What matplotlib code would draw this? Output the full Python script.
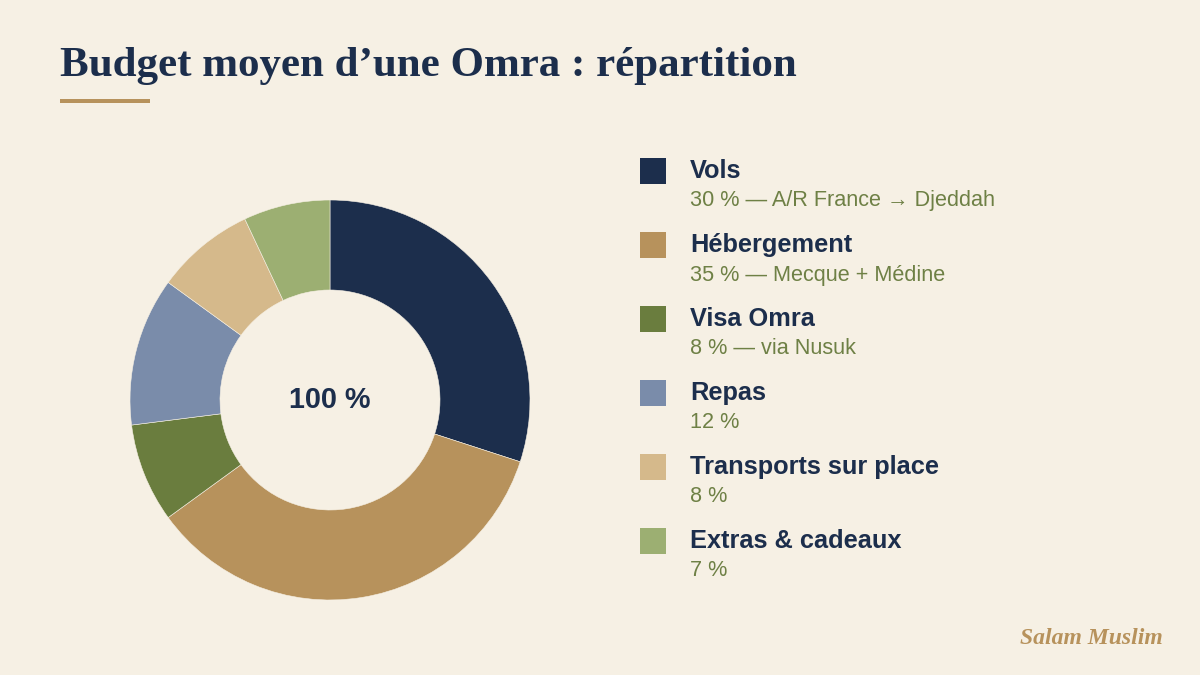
import matplotlib
matplotlib.use("Agg")
import matplotlib.pyplot as plt
from matplotlib.patches import Rectangle

categories = ["Vols", "Hébergement", "Visa Omra", "Repas", "Transports sur place", "Extras & cadeaux"]
values = [30, 35, 8, 12, 8, 7]
details = ["30 % — A/R France → Djeddah", "35 % — Mecque + Médine", "8 % — via Nusuk",
           "12 %", "8 %", "7 %"]
colors = ["#1c2e4c", "#b7925c", "#6a7d3e", "#7a8caa", "#d5b98b", "#9caf72"]
title = "Budget moyen d’une Omra : répartition"
center_label = "100 %"
brand = "Salam Muslim"

BG = "#f6f0e4"
NAVY = "#1c2e4c"
GOLD = "#b7925c"
SUB = "#6e8045"

W, H = 1200, 675
fig = plt.figure(figsize=(12, 6.75), dpi=100, facecolor=BG)

def fx(x): return x / W
def fy(y): return 1 - y / H

# Title
fig.text(fx(60), fy(66), title, family="Liberation Serif", fontweight="bold",
         fontsize=31, color=NAVY, va="center", ha="left")
fig.add_artist(Rectangle((fx(60), fy(103)), fx(90), 4 / H, transform=fig.transFigure,
                         color=GOLD, lw=0))

# Donut
cx, cy, R = 330, 400, 200
ax = fig.add_axes([fx(cx - R), fy(cy + R), 2 * R / W, 2 * R / H])
ax.set_facecolor(BG)
ax.pie(values, colors=colors, startangle=90, counterclock=False, radius=1,
       wedgeprops=dict(width=0.45, edgecolor=BG, linewidth=0.4))
ax.set_xlim(-1, 1)
ax.set_ylim(-1, 1)
ax.axis("off")
ax.text(0, 0, center_label, ha="center", va="center", fontsize=20.7,
        fontweight="bold", color=NAVY, family="Liberation Sans")

# Legend
y0, dy = 171, 74
for i, (cat, det, col) in enumerate(zip(categories, details, colors)):
    y = y0 + i * dy
    fig.add_artist(Rectangle((fx(640), fy(y + 13)), 26 / W, 26 / H,
                             transform=fig.transFigure, color=col, lw=0))
    fig.text(fx(690), fy(y), cat, family="Liberation Sans", fontweight="bold",
             fontsize=18.3, color=NAVY, va="center", ha="left")
    fig.text(fx(690), fy(y + 30), det, family=["Liberation Sans", "DejaVu Sans"],
             fontsize=15.6, color=SUB, va="center", ha="left")

# Brand
fig.text(fx(1163), fy(638), brand, family="Liberation Serif", fontweight="bold",
         style="italic", fontsize=17, color=GOLD, va="center", ha="right")

fig.savefig("out.png", dpi=100, facecolor=BG)
